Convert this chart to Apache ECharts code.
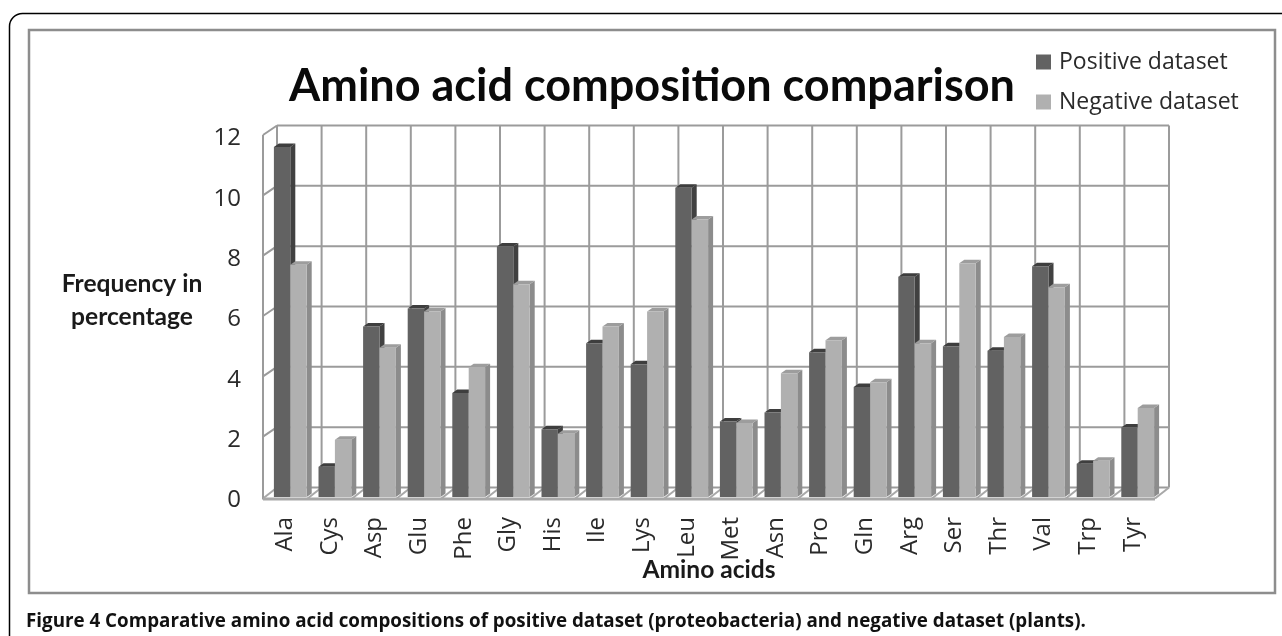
<!DOCTYPE html>
<html><head><meta charset="utf-8">
<style>html,body{margin:0;padding:0;background:#fff}#c{width:1282px;height:636px}</style>
<script src="https://cdn.jsdelivr.net/npm/echarts@6/dist/echarts.min.js"></script>
</head><body><div id="c"></div>
<script>
const categories=['Ala','Cys','Asp','Glu','Phe','Gly','His','Ile','Lys','Leu','Met','Asn','Pro','Gln','Arg','Ser','Thr','Val','Trp','Tyr'];
const positive=[11.6,1.0,5.65,6.25,3.45,8.3,2.25,5.1,4.4,10.25,2.5,2.8,4.8,3.65,7.3,5.0,4.85,7.65,1.1,2.3];
const negative=[7.7,1.9,4.95,6.15,4.3,7.05,2.1,5.65,6.15,9.2,2.45,4.1,5.2,3.8,5.1,7.75,5.3,6.95,1.2,2.95];
const yTicks=[0,2,4,6,8,10,12];
const UI='"Open Sans",sans-serif';
const LABEL='Lato,sans-serif';
const wallDx=14, wallDy=-9.5, barDx=5, barDy=-3.5, barW=16.4, barShift=5;
const wallColor='#9b9b9b';

function bar3d(side, front, sideC, topC){
  return function(params, api){
    const v=api.value(1), c=api.coord([api.value(0),v]), o=api.coord([api.value(0),0]);
    const x0=c[0]+barShift+(side<0?-barW:0), x1=x0+barW, yt=c[1], yb=o[1];
    return {type:'group',children:[
      {type:'polygon',shape:{points:[[x1,yt],[x1+barDx,yt+barDy],[x1+barDx,yb+barDy],[x1,yb]]},style:{fill:sideC}},
      {type:'polygon',shape:{points:[[x0,yt],[x0+barDx,yt+barDy],[x1+barDx,yt+barDy],[x1,yt]]},style:{fill:topC}},
      {type:'rect',shape:{x:x0,y:yt,width:barW,height:yb-yt},style:{fill:front}}
    ]};
  };
}
function ln(a,b,w,col){return {type:'line',shape:{x1:a[0],y1:a[1],x2:b[0],y2:b[1]},style:{stroke:col||wallColor,lineWidth:w||2}};}
function walls(params, api){
  const ch=[], n=categories.length, band=api.size([1,0])[0];
  const p0=api.coord([0,0]), pTop=api.coord([0,12]);
  const left=p0[0]-band/2, right=left+band*n, yb=p0[1], yt=pTop[1];
  yTicks.forEach(t=>{
    const y=api.coord([0,t])[1];
    if(t>0) ch.push(ln([left,y],[left+wallDx,y+wallDy]));
    ch.push(ln([left+wallDx,y+wallDy],[right+wallDx,y+wallDy]));
  });
  for(let i=0;i<=n;i++){
    const x=left+band*i;
    ch.push(ln([x+wallDx,yt+wallDy],[x+wallDx,yb+wallDy]));
    ch.push(ln([x,yb+1.5],[x+wallDx,yb+wallDy],2,'#a8a8a8'));
  }
  ch.push(ln([left,yt],[left,yb+2.5]));
  ch.push(ln([left,yb+2],[right,yb+2],3,'#a8a8a8'));
  return {type:'group',children:ch};
}
const chart=echarts.init(document.getElementById('c'),null,{renderer:'canvas'});
chart.setOption({
  animation:false,backgroundColor:'#fff',
  grid:{left:263,top:135,width:892,height:362,containLabel:false},
  title:[
    {text:'Amino acid composition comparison',left:647,top:59,textAlign:'center',textStyle:{fontFamily:LABEL,fontSize:45,fontWeight:'bold',color:'#0a0a0a'}},
    {text:'Frequency in\npercentage',left:127,top:263,textAlign:'center',textStyle:{fontFamily:LABEL,fontSize:24.6,fontWeight:'bold',color:'#1a1a1a',lineHeight:33,align:'center'}},
    {text:'Amino acids',left:704,top:553,textAlign:'center',textStyle:{fontFamily:LABEL,fontSize:24.6,fontWeight:'bold',color:'#1a1a1a'}},
    {text:'{b|Figure 4 Comparative amino acid compositions of positive dataset (proteobacteria) and negative dataset (plants)}{n|.}',left:21,top:607,
     textStyle:{rich:{b:{fontFamily:UI,fontSize:18.8,fontWeight:'bold',color:'#111'},n:{fontFamily:UI,fontSize:18.8,color:'#111'}}}}
  ],
  legend:{left:1031,top:45.5,orient:'vertical',itemWidth:15,itemHeight:15,itemGap:17,icon:'rect',
    data:['Positive dataset','Negative dataset'],
    textStyle:{fontFamily:UI,fontSize:23,color:'#2a2a2a',padding:[0,0,0,3]}},
  xAxis:{type:'category',data:categories,boundaryGap:true,
    axisLine:{show:false},axisTick:{show:false},splitLine:{show:false},
    axisLabel:{rotate:90,fontFamily:UI,fontSize:24,color:'#2a2a2a',margin:20,interval:0}},
  yAxis:{type:'value',min:0,max:12,interval:2,
    axisLine:{show:false},axisTick:{show:false},splitLine:{show:false},
    axisLabel:{margin:22,formatter:'{a|{value}}',
      rich:{a:{fontFamily:UI,fontSize:24,color:'#2a2a2a',padding:[7,0,0,0]}}}},
  series:[
    {type:'custom',name:'walls',silent:true,z:1,data:[[0,0]],renderItem:walls,clip:false,legendHoverLink:false},
    {type:'custom',name:'Positive dataset',z:2,itemStyle:{color:'#626262'},renderItem:bar3d(-1,'#626262','#414141','#3e3e3e'),encode:{x:0,y:1},clip:false,
     data:positive.map((v,i)=>[i,v])},
    {type:'custom',name:'Negative dataset',z:3,itemStyle:{color:'#b0b0b0'},renderItem:bar3d(1,'#b0b0b0','#8c8c8c','#9d9d9d'),encode:{x:0,y:1},clip:false,
     data:negative.map((v,i)=>[i,v])}
  ],
  graphic:[
    {type:'rect',z:-1,shape:{x:29,y:30,width:1246,height:563},style:{fill:'#fff',stroke:'#8d8d8d',lineWidth:2.5}},
    {type:'rect',z:-2,shape:{x:9.5,y:13.5,width:1290,height:640,r:13},style:{fill:'#fff',stroke:'#000',lineWidth:1.5}}
  ]
});
</script></body></html>
